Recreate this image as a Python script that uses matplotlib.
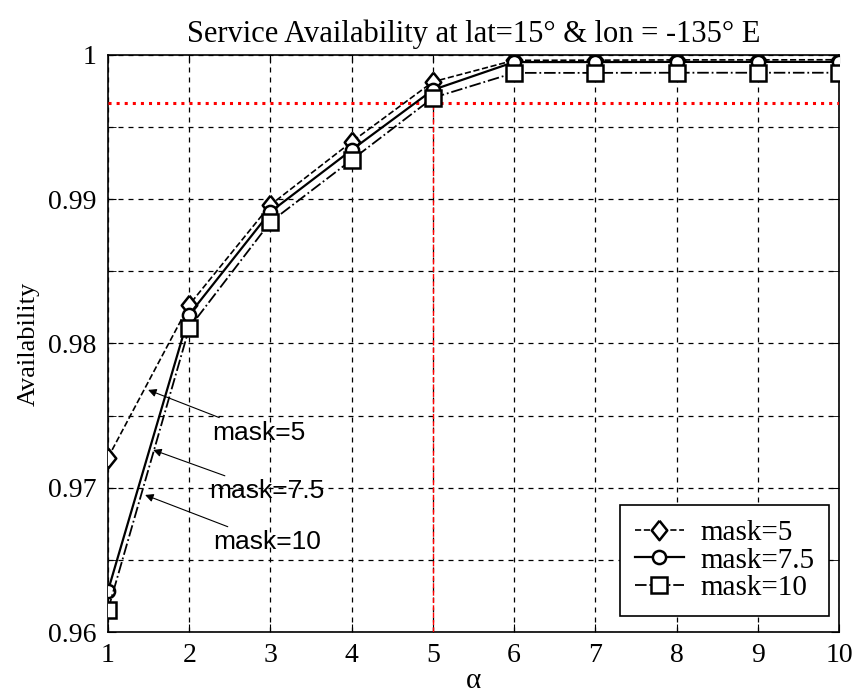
import numpy as np
import matplotlib
matplotlib.use("Agg")
import matplotlib.pyplot as plt
from matplotlib.ticker import MultipleLocator

# alpha values and availability for each elevation mask
alpha = [1, 2, 3, 4, 5, 6, 7, 8, 9, 10]
mask5 = [0.97208, 0.98267, 0.98960, 0.99397, 0.99813, 0.99962, 0.99963, 0.99965, 0.99965, 0.99966]
mask75 = [0.96286, 0.98200, 0.98912, 0.99341, 0.99757, 0.99950, 0.99950, 0.99951, 0.99951, 0.99951]
mask10 = [0.96153, 0.98107, 0.98842, 0.99272, 0.99702, 0.99875, 0.99875, 0.99876, 0.99876, 0.99876]

target = 0.99667
alpha_req = 5

serif = "Liberation Serif"
sans = "Liberation Sans"

# wide diamond like the matlab one
diamond = [(0, 1), (0.8, 0), (0, -1), (-0.8, 0), (0, 1)]

fig = plt.figure(figsize=(8.57, 6.95), dpi=100)
ax = fig.add_axes([0.126, 0.0906, 0.853, 0.8305])

# requirement lines
ax.plot([alpha[0], alpha[-1]], [target, target], color="red", ls=":", lw=2.2, zorder=3)
ax.plot([alpha_req, alpha_req], [0.96, target], color="red", ls="--", lw=1.0, zorder=3)

ax.plot(alpha, mask5, color="black", ls="--", lw=1.2, marker=diamond, ms=14,
        mfc="white", mec="black", mew=1.8, label="mask=5", zorder=4)
ax.plot(alpha, mask75, color="black", ls="-", lw=1.6, marker="o", ms=9.5,
        mfc="white", mec="black", mew=1.8, label="mask=7.5", zorder=4)
ax.plot(alpha, mask10, color="black", ls="-.", lw=1.3, marker="s", ms=11,
        mfc="white", mec="black", mew=1.8, label="mask=10", zorder=4)

ax.set_xlim(1, 10)
ax.set_ylim(0.96, 1.0)
ax.xaxis.set_major_locator(MultipleLocator(1))
ax.yaxis.set_minor_locator(MultipleLocator(0.005))
ax.set_yticks([0.96, 0.97, 0.98, 0.99, 1.0])
ax.set_yticklabels(["0.96", "0.97", "0.98", "0.99", "1"])
ax.grid(True, which="both", color="black", ls=(0, (4, 4)), lw=0.9)
ax.tick_params(which="both", direction="in", top=True, right=True,
               labelsize=20, length=6, pad=8)
for lab in ax.get_xticklabels() + ax.get_yticklabels():
    lab.set_family(serif)

ax.set_title("Service Availability at lat=15° & lon = -135° E",
             family=serif, fontsize=22, pad=9)
ax.set_xlabel("α", family=serif, fontsize=21, labelpad=0)
ax.set_ylabel("Availability", family=serif, fontsize=19, labelpad=6)

# text labels with arrows
notes = [("mask=5", (1.494, 0.97678), (2.28, 0.97380)),
         ("mask=7.5", (1.556, 0.97262), (2.25, 0.96977)),
         ("mask=10", (1.457, 0.96950), (2.30, 0.96624))]
for txt, head, tail in notes:
    ax.annotate(txt, xy=head, xytext=tail, ha="left", va="center",
                family=sans, fontsize=19, zorder=5,
                arrowprops=dict(arrowstyle="-|>", color="black", lw=0.8,
                                mutation_scale=12, shrinkA=1, shrinkB=0))

leg = ax.legend(loc="lower right", bbox_to_anchor=(0.9863, 0.0277),
                borderaxespad=0, prop={"family": serif, "size": 21},
                fancybox=False, edgecolor="black", framealpha=1,
                handlelength=1.7, handletextpad=0.55, borderpad=0.5,
                labelspacing=0.05)
leg.get_frame().set_linewidth(1.2)

for s in ax.spines.values():
    s.set_linewidth(1.2)

fig.savefig("out.png", dpi=100)
